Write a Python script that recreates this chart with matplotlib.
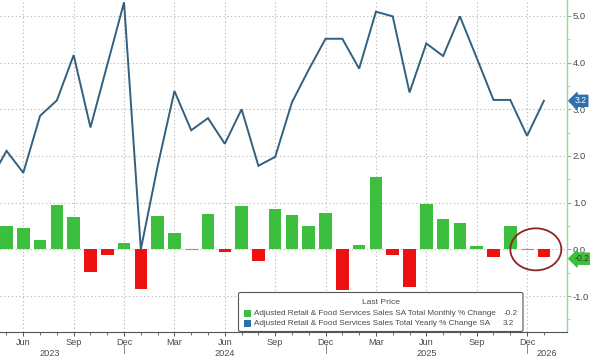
import numpy as np
import pandas as pd
import matplotlib
matplotlib.use("Agg")
import matplotlib.pyplot as plt
from matplotlib.patches import Ellipse, FancyBboxPatch, Rectangle
from matplotlib.transforms import blended_transform_factory

plt.rcParams['font.family'] = ['Liberation Sans', 'DejaVu Sans']

# ---------------- data ----------------
bar_months = pd.period_range("2023-05", "2026-01", freq="M")
monthly_change = [0.51, 0.46, 0.19, 0.94, 0.69, -0.48, -0.12, 0.14,
                  -0.85, 0.71, 0.34, 0.0, 0.75, -0.05, 0.93, -0.26, 0.86, 0.74, 0.50, 0.77,
                  -0.86, 0.09, 1.54, -0.12, -0.80, 0.97, 0.64, 0.56, 0.07, -0.16, 0.50, 0.0,
                  -0.17]
line_months = pd.period_range("2023-04", "2026-01", freq="M")
yearly_change = [1.46, 2.11, 1.64, 2.86, 3.19, 4.16, 2.61, 3.95, 5.29,
                 0.0, 1.78, 3.39, 2.55, 2.81, 2.26, 3.0, 1.79, 1.98, 3.15, 3.85, 4.51,
                 4.51, 3.87, 5.09, 4.99, 3.36, 4.41, 4.14, 4.99, 4.10, 3.2, 3.2, 2.43,
                 3.18]
series_labels = ["Adjusted Retail & Food Services Sales SA Total Monthly % Change",
                 "Adjusted Retail & Food Services Sales Total Yearly % Change SA"]
legend_title = "Last Price"
year_labels = ["2023", "2024", "2025", "2026"]
year_label_pos = [2.6, 13.0, 25.0, 32.2]
y_ticks = [-1.0, 0.0, 1.0, 2.0, 3.0, 4.0, 5.0]

# ---------------- styling ----------------
GREEN = "#3cbf3c"
RED = "#ee1111"
BLUE_LINE = "#33607f"
TAG_BLUE = "#2f6fae"
GRID = "#bdbdbd"
TXT = "#4a4a4a"
W, H = 590, 357

fig = plt.figure(figsize=(W / 100, H / 100), dpi=100)
ax = fig.add_axes([0, 1 - 332 / H, 566.7 / W, 332 / H])

first = bar_months[0]
xb = np.array([(m - first).n for m in bar_months])
xl = np.array([(m - first).n for m in line_months])

colors = []
for v in monthly_change:
    if abs(v) < 0.005:
        colors.append("#b09090")
    elif v > 0:
        colors.append(GREEN)
    else:
        colors.append(RED)
bars = ax.bar(xb, monthly_change, width=0.75, color=colors, zorder=2)
for b, v in zip(bars, monthly_change):
    if abs(v) < 0.005:
        b.set_edgecolor("#a08a8a")
        b.set_linewidth(0.8)

ax.plot(xl, yearly_change, color=BLUE_LINE, lw=1.4, zorder=3, solid_joinstyle="miter")

ax.set_xlim(-0.387, 33.36)
ax.set_ylim(-1.77, 5.34)

# grid
major_idx = [i for i, m in enumerate(bar_months) if m.month in (3, 6, 9, 12)]
ax.set_xticks(xb[major_idx])
ax.set_xticklabels([bar_months[i].strftime("%b") for i in major_idx])
ax.set_xticks(xb, minor=True)
ax.yaxis.tick_right()
ax.set_yticks(y_ticks)
ax.set_yticklabels([f"{t:.1f}" for t in y_ticks])
ax.set_yticks(np.arange(-1.5, 5.5, 0.5), minor=True)
ax.grid(True, which="major", color=GRID, linestyle=(0, (1.2, 2.2)), lw=0.8, zorder=0)

for s in ["top", "left"]:
    ax.spines[s].set_visible(False)
ax.spines["bottom"].set_color("#555555")
ax.spines["bottom"].set_linewidth(0.8)
ax.spines["right"].set_color("#9ed49e")
ax.spines["right"].set_linewidth(1.0)

ax.tick_params(axis="x", which="major", direction="out", length=3, width=0.7,
               color="#555555", labelsize=6.6, labelcolor=TXT, pad=1.5)
ax.tick_params(axis="x", which="minor", direction="out", length=2, width=0.6, color="#555555")
ax.tick_params(axis="y", which="major", direction="out", length=3, width=0.8,
               color="#7cc47c", labelsize=6.8, labelcolor=TXT, pad=1.5)
ax.tick_params(axis="y", which="minor", direction="out", length=2, width=0.6, color="#9ed49e")

# year labels and separators
tb = blended_transform_factory(ax.transData, ax.transAxes)
for lab, pos in zip(year_labels, year_label_pos):
    ax.text(pos, -0.052, lab, transform=tb, ha="center", va="top",
            fontsize=6.6, color=TXT)
for i, m in enumerate(bar_months):
    if m.month == 12:
        ax.plot([xb[i], xb[i]], [-0.035, -0.062], transform=tb, color="#888888",
                lw=0.7, clip_on=False)

# last-value tags
tr = blended_transform_factory(ax.transAxes, ax.transData)
ax.text(1.014, yearly_change[-1], f"{yearly_change[-1]:.1f}", transform=tr,
        ha="left", va="center", fontsize=6.3, color="white", zorder=10, clip_on=False,
        bbox=dict(boxstyle="larrow,pad=0.12", fc=TAG_BLUE, ec=TAG_BLUE))
ax.text(1.014, monthly_change[-1] - 0.03, f"{monthly_change[-1]:.1f}", transform=tr,
        ha="left", va="center", fontsize=6.3, color="#1f4d1f", zorder=10, clip_on=False,
        bbox=dict(boxstyle="larrow,pad=0.12", fc=GREEN, ec=GREEN))

# highlight ellipse
ax.add_patch(Ellipse((31.52, 0.0), 3.04, 0.9, fill=False, ec="#8a2525", lw=1.3, zorder=5))

# legend (manual, Bloomberg-like)
def fx(px):
    return px / W
def fy(py):
    return 1 - py / H

fig.patches.append(FancyBboxPatch((fx(238.5), fy(331.5)), fx(523) - fx(238.5), fy(292.5) - fy(331.5),
                                  boxstyle="round,pad=0,rounding_size=0.004",
                                  transform=fig.transFigure, fc="white", ec="#555555", lw=0.8,
                                  zorder=20))
t_head = fig.text(fx(381), fy(302.5), legend_title, ha="center", va="center", fontsize=6.8,
                  color=TXT, zorder=21)
rows = [(313.5, GREEN, series_labels[0], f"{monthly_change[-1]:.1f}", 518),
        (323.5, TAG_BLUE, series_labels[1], f"{yearly_change[-1]:.1f}", 514)]
label_texts = []
val_texts = []
for y, c, lab, val, xr in rows:
    fig.patches.append(Rectangle((fx(244), fy(y + 3.5)), fx(7), 7 / H, transform=fig.transFigure,
                                 fc=c, ec="none", zorder=21))
    t = fig.text(fx(253.5), fy(y), lab, ha="left", va="center", fontsize=6.8, color=TXT, zorder=21)
    label_texts.append(t)
    tv = fig.text(fx(xr), fy(y), val, ha="right", va="center", fontsize=6.8, color=TXT, zorder=21)
    val_texts.append(tv)

# fit legend font sizes to the reference widths
fig.canvas.draw()
r = fig.canvas.get_renderer()
w0 = label_texts[0].get_window_extent(r).width
fs = 6.8 * 245.0 / w0
for t in label_texts + val_texts:
    t.set_fontsize(fs)
wh = t_head.get_window_extent(r).width
t_head.set_fontsize(min(7.2, 6.8 * 38.0 / wh))

fig.savefig("out.png", dpi=100)
